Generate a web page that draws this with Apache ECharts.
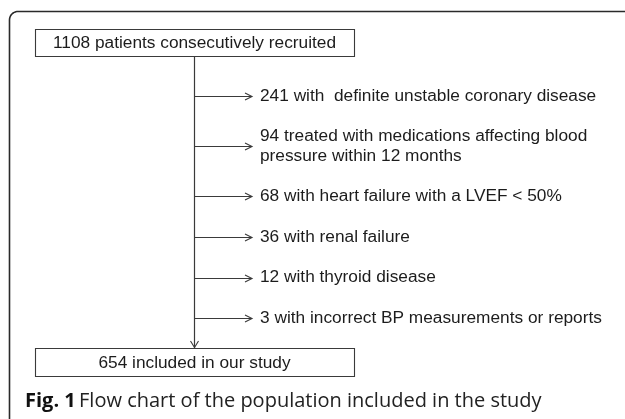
<!DOCTYPE html>
<html>
<head>
<meta charset="utf-8">
<script src="https://cdn.jsdelivr.net/npm/echarts@6/dist/echarts.min.js"></script>
<style>
html,body{margin:0;padding:0;background:#fff;}
#chart{width:625px;height:419px;}
</style>
</head>
<body>
<div id="chart"></div>
<script>
// ---- data ----
const startCount = 1108;
const startText = "patients consecutively recruited";
const finalCount = 654;
const finalText = "included in our study";
const exclusionCounts = [241, 94, 68, 36, 12, 3];
const exclusionTexts = [
  "with  definite unstable coronary disease",
  "treated with medications affecting blood\npressure within 12 months",
  "with heart failure with a LVEF < 50%",
  "with renal failure",
  "with thyroid disease",
  "with incorrect BP measurements or reports"
];
const captionBold = "Fig. 1";
const captionText = "Flow chart of the population included in the study";

// ---- layout (pixel space of a hidden cartesian grid) ----
const L = {
  boxLeft: 35, boxRight: 354,
  topBoxTop: 29, topBoxBottom: 56,
  botBoxTop: 348, botBoxBottom: 376,
  trunkX: 194.5,
  arrowTip: 252, textX: 260,
  firstRow: 96, rowGap: 40.6, extraPerLine: 9.6
};
const rowY = [];
(function(){
  let y = L.firstRow;
  exclusionTexts.forEach(function(t, i){
    const lines = t.split('\n').length;
    if (i > 0) y += L.extraPerLine * (lines - 1);
    rowY.push(y);
    y += L.rowGap + L.extraPerLine * (lines - 1);
  });
})();

const lineColor = '#3a3a3a';
const textColor = '#1c1c1c';
const font = '"Liberation Sans", Arial, sans-serif';
const fs = 17.3;

const boxData = [
  [L.boxLeft, L.topBoxTop, L.boxRight, L.topBoxBottom, startCount + ' ' + startText],
  [L.boxLeft, L.botBoxTop, L.boxRight, L.botBoxBottom, finalCount + ' ' + finalText]
];
const exclData = exclusionCounts.map(function(c, i){
  return [L.trunkX, rowY[i], L.arrowTip, L.textX, c + ' ' + exclusionTexts[i]];
});

// frame outline points (rounded top-left corner)
const framePts = [[625, 11.5]];
(function(){
  const cx = 18, cy = 20, r = 8.5;
  for (let k = 0; k <= 12; k++) {
    const ang = -Math.PI / 2 - (Math.PI / 2) * k / 12;
    framePts.push([cx + r * Math.cos(ang), cy + r * Math.sin(ang)]);
  }
  framePts.push([9.5, 419]);
})();

const chart = echarts.init(document.getElementById('chart'), null, {renderer: 'canvas'});
chart.setOption({
  animation: false,
  backgroundColor: '#fff',
  grid: {left: 0, right: 0, top: 0, bottom: 0},
  xAxis: {type: 'value', min: 0, max: 625, show: false},
  yAxis: {type: 'value', min: 0, max: 419, inverse: true, show: false},
  graphic: [
    {
      type: 'polyline', silent: true,
      shape: {points: framePts},
      style: {fill: null, stroke: '#2a2a2a', lineWidth: 1.6}
    },
    {
      type: 'text', left: 25, top: 391, silent: true,
      style: {
        text: '{b|' + captionBold + '} {r|' + captionText + '}',
        rich: {
          b: {fontFamily: '"Open Sans", "Noto Sans", sans-serif', fontWeight: 'bold', fontSize: 20, fill: '#111'},
          r: {fontFamily: '"Open Sans", "Noto Sans", sans-serif', fontSize: 20, fill: '#222'}
        }
      }
    }
  ],
  series: [
    {
      type: 'custom', coordinateSystem: 'cartesian2d',
      data: [[L.trunkX, L.topBoxBottom, L.trunkX, L.botBoxTop]],
      renderItem: function(params, api){
        const a = api.coord([api.value(0), api.value(1)]);
        const b = api.coord([api.value(2), api.value(3)]);
        return {type: 'group', children: [
          {type: 'line', shape: {x1: a[0], y1: a[1], x2: b[0], y2: b[1]}, style: {stroke: lineColor, lineWidth: 1.2}},
          {type: 'polyline', shape: {points: [[b[0]-4, b[1]-7], [b[0], b[1]-0.5], [b[0]+4, b[1]-7]]}, style: {stroke: lineColor, lineWidth: 1.1, fill: null}}
        ]};
      }
    },
    {
      type: 'custom', coordinateSystem: 'cartesian2d',
      data: exclData,
      renderItem: function(params, api){
        const a = api.coord([api.value(0), api.value(1)]);
        const tip = api.coord([api.value(2), api.value(1)]);
        const tx = api.coord([api.value(3), api.value(1)]);
        const label = exclData[params.dataIndex][4];
        const yy = Math.round(a[1]) + 0.5;
        return {type: 'group', children: [
          {type: 'line', shape: {x1: a[0], y1: yy, x2: tip[0], y2: yy}, style: {stroke: lineColor, lineWidth: 1.1}},
          {type: 'polyline', shape: {points: [[tip[0]-7, yy - 3.5], [tip[0], yy], [tip[0]-7, yy + 3.5]]}, style: {stroke: lineColor, lineWidth: 1.1, fill: null}},
          {type: 'text', x: tx[0], y: a[1], style: {text: label, fontFamily: font, fontSize: fs, lineHeight: 20, fill: textColor, verticalAlign: 'middle', align: 'left'}}
        ]};
      }
    },
    {
      type: 'custom', coordinateSystem: 'cartesian2d',
      data: boxData,
      renderItem: function(params, api){
        const p1 = api.coord([api.value(0), api.value(1)]);
        const p2 = api.coord([api.value(2), api.value(3)]);
        const label = boxData[params.dataIndex][4];
        return {type: 'group', children: [
          {type: 'rect', shape: {x: Math.round(p1[0]) + 0.5, y: Math.round(p1[1]) + 0.5, width: p2[0]-p1[0], height: p2[1]-p1[1]}, style: {stroke: lineColor, lineWidth: 1.1, fill: '#fff'}},
          {type: 'text', x: (p1[0]+p2[0])/2, y: (p1[1]+p2[1])/2 + 1, style: {text: label, fontFamily: font, fontSize: fs, fill: textColor, align: 'center', verticalAlign: 'middle'}}
        ]};
      }
    }
  ]
});
</script>
</body>
</html>
